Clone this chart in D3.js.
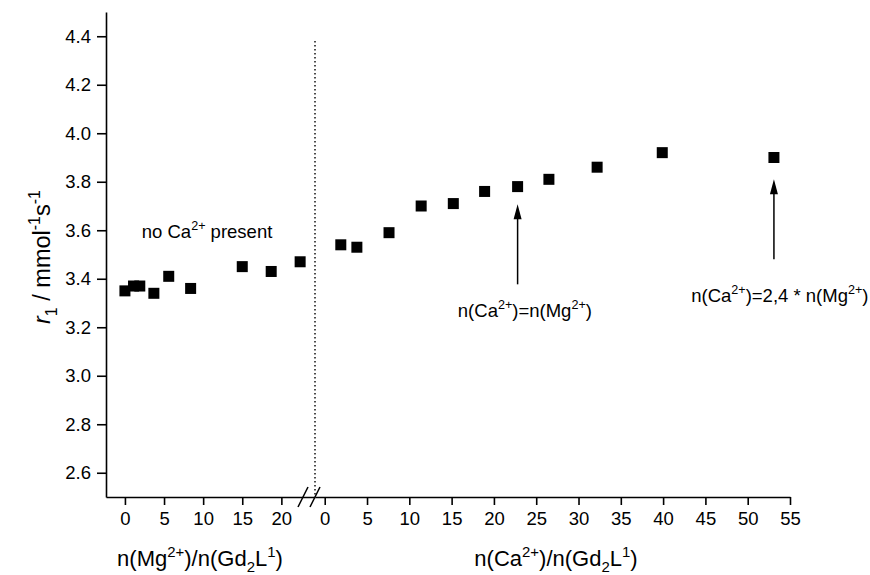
<!DOCTYPE html>
<html>
<head>
<meta charset="utf-8">
<script src="https://cdn.jsdelivr.net/npm/d3@7"></script>
<style>
  body { margin: 0; background: #fff; }
  text { font-family: "Liberation Sans", Arial, Helvetica, sans-serif; fill: #000; }
</style>
</head>
<body>
<svg id="chart" width="870" height="575"></svg>
<script>
// r1 relaxivity: Mg2+ titrated first (left segment), then Ca2+ added (right segment)
const mgRatio = [0, 1.1, 1.9, 3.7, 5.6, 8.4, 15.0, 18.7, 22.4];
const mgR1    = [3.35, 3.37, 3.37, 3.34, 3.41, 3.36, 3.45, 3.43, 3.47];

const caRatio = [1.9, 3.8, 7.6, 11.4, 15.2, 18.9, 22.8, 26.5, 32.2, 39.9, 53.1];
const caR1    = [3.54, 3.53, 3.59, 3.70, 3.71, 3.76, 3.78, 3.81, 3.86, 3.92, 3.90];

const yTicks  = [2.6, 2.8, 3.0, 3.2, 3.4, 3.6, 3.8, 4.0, 4.2, 4.4];
const mgTicks = [0, 5, 10, 15, 20];
const caTicks = [0, 5, 10, 15, 20, 25, 30, 35, 40, 45, 50, 55];

// arrows on the Ca2+ segment: x position, tail and tip in r1 units
const arrowX    = [22.8, 53.1];
const arrowTail = [3.377, 3.480];
const arrowTip  = [3.707, 3.810];

const svg = d3.select("#chart");

const y = d3.scaleLinear().domain([2.5, 4.5]).range([497, 12]);
const xMg = d3.scaleLinear().domain([-2.42, 24.3]).range([106, 315]);
const xCa = d3.scaleLinear().domain([-1.15, 55]).range([315, 790]);

const tickFont = 18.5;
const titleFont = 22;
const yTitleFont = 23.5;
const noteFont = 18.5;

// rich text helper: parts are [text, kind] where kind is "", "sup", "sub", "it"
function rich(sel, parts, size) {
  sel.attr("font-size", size);
  let shift = 0;
  parts.forEach(([t, kind]) => {
    let target = 0;
    let fs = size;
    if (kind === "sup") { target = -0.42 * size; fs = size * 0.68; }
    if (kind === "sub") { target = 0.28 * size; fs = size * 0.68; }
    const ts = sel.append("tspan").text(t).attr("font-size", fs)
      .attr("dy", target - shift);
    if (kind === "it") ts.attr("font-style", "italic");
    shift = target;
  });
}

// y axis
const yAxis = svg.append("g").attr("transform", `translate(${xMg.range()[0]},0)`)
  .call(d3.axisLeft(y).tickValues(yTicks).tickSize(9).tickSizeOuter(0)
    .tickPadding(6).tickFormat(d3.format(".1f")));
yAxis.attr("font-size", tickFont).attr("font-family", null);

// bottom axes, two segments joined at the break
const axMg = svg.append("g").attr("transform", `translate(0,${y.range()[0]})`)
  .call(d3.axisBottom(xMg).tickValues(mgTicks).tickSize(8).tickSizeOuter(0).tickPadding(7));
const axCa = svg.append("g").attr("transform", `translate(0,${y.range()[0]})`)
  .call(d3.axisBottom(xCa).tickValues(caTicks).tickSize(8).tickSizeOuter(0).tickPadding(7));
[axMg, axCa].forEach(a => a.attr("font-size", tickFont).attr("font-family", null));

svg.selectAll(".domain, .tick line").attr("stroke", "#000").attr("stroke-width", 1.6);

// break marks on the x axis
const brk = xCa.range()[0];
[-12, 0].forEach(off => {
  svg.append("line")
    .attr("x1", brk + off - 5).attr("y1", y.range()[0] + 10)
    .attr("x2", brk + off + 5).attr("y2", y.range()[0] - 10)
    .attr("stroke", "#000").attr("stroke-width", 1.6);
});

// dotted separator between the two titrations
svg.append("line")
  .attr("x1", brk).attr("x2", brk)
  .attr("y1", y(4.38)).attr("y2", y.range()[0])
  .attr("stroke", "#000").attr("stroke-width", 1.4)
  .attr("stroke-dasharray", "1.4,2.6");

// markers
const sq = 11;
svg.append("g").selectAll("rect").data(mgRatio.map((d, i) => [d, mgR1[i]]))
  .join("rect")
  .attr("x", d => xMg(d[0]) - sq / 2).attr("y", d => y(d[1]) - sq / 2)
  .attr("width", sq).attr("height", sq).attr("fill", "#000");
svg.append("g").selectAll("rect").data(caRatio.map((d, i) => [d, caR1[i]]))
  .join("rect")
  .attr("x", d => xCa(d[0]) - sq / 2).attr("y", d => y(d[1]) - sq / 2)
  .attr("width", sq).attr("height", sq).attr("fill", "#000");

// arrows
arrowX.forEach((ax, i) => {
  const px = xCa(ax), ty = y(arrowTip[i]), by = y(arrowTail[i]);
  svg.append("line").attr("x1", px).attr("x2", px)
    .attr("y1", by).attr("y2", ty + 10)
    .attr("stroke", "#000").attr("stroke-width", 1.5);
  svg.append("path")
    .attr("d", `M${px},${ty} L${px - 4},${ty + 15} L${px + 4},${ty + 15} Z`)
    .attr("fill", "#000");
});

// annotations
rich(svg.append("text").attr("x", xMg(10.5)).attr("y", y(3.568)).attr("text-anchor", "middle"),
  [["no Ca", ""], ["2+", "sup"], [" present", ""]], noteFont);
rich(svg.append("text").attr("x", xCa(23.66)).attr("y", y(3.242)).attr("text-anchor", "middle"),
  [["n(Ca", ""], ["2+", "sup"], [")=n(Mg", ""], ["2+", "sup"], [")", ""]], noteFont);
rich(svg.append("text").attr("x", xCa(53.8)).attr("y", y(3.304)).attr("text-anchor", "middle"),
  [["n(Ca", ""], ["2+", "sup"], [")=2,4 * n(Mg", ""], ["2+", "sup"], [")", ""]], noteFont);

// axis titles
rich(svg.append("text").attr("x", 200).attr("y", 566).attr("text-anchor", "middle"),
  [["n(Mg", ""], ["2+", "sup"], [")/n(Gd", ""], ["2", "sub"], ["L", ""], ["1", "sup"], [")", ""]], titleFont);
rich(svg.append("text").attr("x", 556).attr("y", 566).attr("text-anchor", "middle"),
  [["n(Ca", ""], ["2+", "sup"], [")/n(Gd", ""], ["2", "sub"], ["L", ""], ["1", "sup"], [")", ""]], titleFont);
rich(svg.append("text").attr("transform", "translate(50,257) rotate(-90)").attr("text-anchor", "middle"),
  [["r", "it"], ["1", "sub"], [" / mmol", ""], ["-1", "sup"], ["s", ""], ["-1", "sup"]], yTitleFont);
</script>
</body>
</html>
